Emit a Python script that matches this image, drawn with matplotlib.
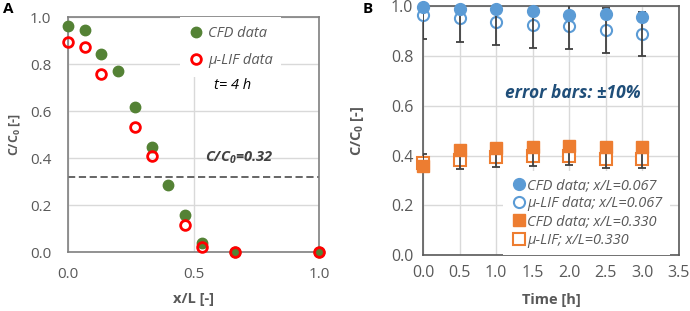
import matplotlib.pyplot as plt
from matplotlib.lines import Line2D

plt.rcParams.update({
    "font.family": ["Open Sans", "DejaVu Sans"],
    "font.size": 10,
    "mathtext.default": "regular",
})

# Panel A: concentration profile along x/L at t = 4 h
xl_cfd = [0.0, 0.067, 0.133, 0.2, 0.267, 0.333, 0.4, 0.467, 0.533, 0.667, 1.0]
c_cfd = [0.96, 0.943, 0.842, 0.77, 0.618, 0.447, 0.287, 0.158, 0.038, 0.0, 0.0]
xl_lif = [0.0, 0.067, 0.133, 0.267, 0.333, 0.467, 0.533, 0.667, 1.0]
c_lif = [0.894, 0.874, 0.757, 0.53, 0.409, 0.116, 0.021, 0.0, 0.0]
c_threshold = 0.32

# Panel B: concentration vs time at two positions
time_h = [0.0, 0.5, 1.0, 1.5, 2.0, 2.5, 3.0]
cfd_067 = [0.997, 0.99, 0.988, 0.98, 0.963, 0.967, 0.957]
lif_067 = [0.964, 0.951, 0.937, 0.924, 0.92, 0.903, 0.887]
cfd_330 = [0.356, 0.424, 0.429, 0.433, 0.44, 0.433, 0.433]
lif_330 = [0.37, 0.383, 0.393, 0.397, 0.40, 0.387, 0.387]
err_frac = 0.10

green = "#548235"
red = "#FF0000"
blue = "#5B9BD5"
orange = "#ED7D31"
grid_c = "#D9D9D9"
text_c = "#595959"

fig = plt.figure(figsize=(6.9, 3.11), dpi=100)
axA = fig.add_axes([0.0986, 0.1897, 0.3638, 0.7556])
axB = fig.add_axes([0.613, 0.18, 0.371, 0.80])


def style_axes(ax, spine_c, size, xpad, ypad):
    for s in ax.spines.values():
        s.set_color(spine_c)
        s.set_linewidth(1.2)
    ax.tick_params(length=0, colors=text_c, labelsize=size)
    ax.tick_params(axis="x", pad=xpad)
    ax.tick_params(axis="y", pad=ypad)
    ax.grid(True, color=grid_c, linewidth=1.0)
    ax.set_axisbelow(True)
    ax.xaxis.set_major_formatter(plt.FormatStrFormatter("%.1f"))
    ax.yaxis.set_major_formatter(plt.FormatStrFormatter("%.1f"))


def white_box(leg):
    fr = leg.get_frame()
    fr.set_edgecolor("none")
    fr.set_facecolor("white")
    fr.set_alpha(1)
    fr.set_boxstyle("square", pad=0)


# ---- Panel A ----
style_axes(axA, "#7F7F7F", 11, 11, 12)
axA.set_xlim(0, 1.0)
axA.set_ylim(0, 1.0)
axA.set_xticks([0.0, 0.5, 1.0])
axA.set_yticks([0.0, 0.2, 0.4, 0.6, 0.8, 1.0])
axA.axhline(c_threshold, color="#595959", linestyle=(0, (4, 2)), linewidth=1.3, zorder=2)
axA.plot(xl_cfd, c_cfd, "o", color=green, markersize=7.5, clip_on=False, zorder=3,
         label="CFD data")
axA.plot(xl_lif, c_lif, "o", markerfacecolor="none", markeredgecolor=red,
         markeredgewidth=2, markersize=7, clip_on=False, zorder=4, label="μ-LIF data")
legA = axA.legend(loc="upper right", bbox_to_anchor=(0.85, 1.0), frameon=True,
                  borderaxespad=0, handlelength=1.0, handletextpad=0.3,
                  borderpad=0.6, labelspacing=0.85,
                  prop={"style": "italic", "size": 10.5}, labelcolor=text_c)
white_box(legA)
axA.text(0.655, 0.71, "t= 4 h", style="italic", fontsize=10.5, ha="center",
         va="center", color="black", zorder=7)
axA.text(0.68, 0.40, r"C/C$_{\mathregular{0}}$=0.32", style="italic", weight="bold",
         fontsize=10.5, ha="center", va="center", color="#404040")
axA.set_xlabel("x/L [-]", weight="bold", color=text_c, fontsize=10.5, labelpad=7)
axA.set_ylabel(r"C/C$_{\mathregular{0}}$ [-]", weight="bold", color=text_c,
               fontsize=9, labelpad=6)
fig.text(0.004, 0.995, "A", weight="bold", fontsize=11, va="top")

# ---- Panel B ----
style_axes(axB, "#595959", 11.5, 7, 7)
axB.set_xlim(0, 3.5)
axB.set_ylim(0, 1.0)
axB.set_xticks([0.0, 0.5, 1.0, 1.5, 2.0, 2.5, 3.0, 3.5])
axB.set_yticks([0.0, 0.2, 0.4, 0.6, 0.8, 1.0])

err067 = [v * err_frac for v in lif_067]
err330 = [v * err_frac for v in lif_330]
axB.plot(time_h, lif_067, "o", markerfacecolor="white", markeredgecolor=blue,
         markeredgewidth=1.5, markersize=8, clip_on=False, zorder=3)
axB.errorbar(time_h, lif_067, yerr=err067, fmt="none", ecolor="#404040",
             elinewidth=1.3, capsize=3, capthick=1.3, zorder=4)
axB.plot(time_h, cfd_067, "o", color=blue, markersize=8.5, clip_on=False, zorder=5)
axB.plot(time_h, lif_330, "s", markerfacecolor="white", markeredgecolor=orange,
         markeredgewidth=1.5, markersize=8, clip_on=False, zorder=3)
axB.errorbar(time_h, lif_330, yerr=err330, fmt="none", ecolor="#404040",
             elinewidth=1.3, capsize=3, capthick=1.3, zorder=4)
axB.plot(time_h, cfd_330, "s", color=orange, markersize=8.5, clip_on=False, zorder=5)

handles = [
    Line2D([], [], marker="o", linestyle="none", color=blue, markersize=8.5),
    Line2D([], [], marker="o", linestyle="none", markerfacecolor="white",
           markeredgecolor=blue, markeredgewidth=1.5, markersize=8),
    Line2D([], [], marker="s", linestyle="none", color=orange, markersize=8.5),
    Line2D([], [], marker="s", linestyle="none", markerfacecolor="white",
           markeredgecolor=orange, markeredgewidth=1.5, markersize=8),
]
labels = ["CFD data; x/L=0.067", "μ-LIF data; x/L=0.067",
          "CFD data; x/L=0.330", "μ-LIF; x/L=0.330"]
legB = axB.legend(handles, labels, loc="lower right", bbox_to_anchor=(0.965, 0.0),
                  frameon=True, borderaxespad=0, handletextpad=0.0, borderpad=0.5,
                  labelspacing=0.22, handlelength=1.2,
                  prop={"style": "italic", "size": 10.5}, labelcolor=text_c)
white_box(legB)
axB.text(2.05, 0.652, "error bars: ±10%", style="italic", weight="bold",
         fontsize=12.5, ha="center", va="center", color="#1F4E79")
axB.set_xlabel("Time [h]", weight="bold", color=text_c, fontsize=10.5, labelpad=9)
axB.set_ylabel(r"C/C$_{\mathregular{0}}$ [-]", weight="bold", color=text_c,
               fontsize=10.5, labelpad=18)
fig.text(0.526, 0.995, "B", weight="bold", fontsize=11, va="top")

fig.savefig("out.png", dpi=100)
